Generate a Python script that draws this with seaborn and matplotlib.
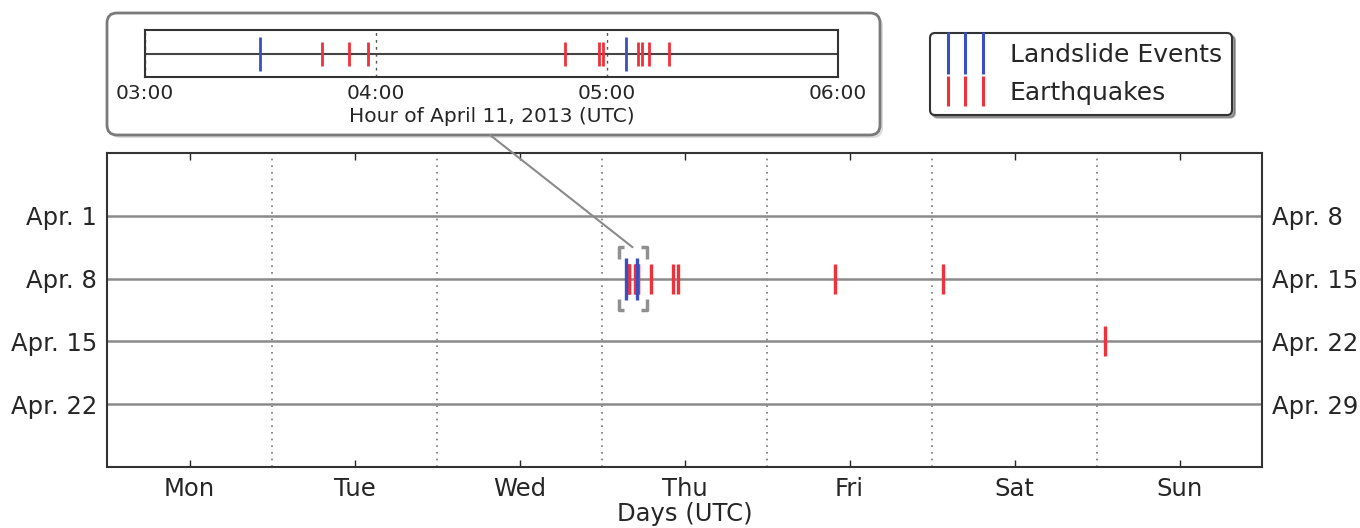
import numpy as np
import pandas as pd
import matplotlib
matplotlib.use("Agg")
import matplotlib.pyplot as plt
import seaborn as sns
from matplotlib.patches import FancyBboxPatch, ConnectionPatch
from matplotlib.lines import Line2D

# ---------------- data ----------------
landslide_times = ["2013-04-11 03:30", "2013-04-11 05:05"]
earthquake_times = [
    "2013-04-11 03:46", "2013-04-11 03:53", "2013-04-11 03:58",
    "2013-04-11 04:49", "2013-04-11 04:58", "2013-04-11 04:59",
    "2013-04-11 05:08", "2013-04-11 05:09", "2013-04-11 05:11", "2013-04-11 05:16",
    "2013-04-11 07:08", "2013-04-11 10:20", "2013-04-11 11:03",
    "2013-04-12 09:53", "2013-04-13 01:36", "2013-04-21 01:10",
]
day_labels = ["Mon", "Tue", "Wed", "Thu", "Fri", "Sat", "Sun"]
week_start_labels = ["Apr. 1", "Apr. 8", "Apr. 15", "Apr. 22"]
week_end_labels = ["Apr. 8", "Apr. 15", "Apr. 22", "Apr. 29"]
inset_hours = [3, 4, 5, 6]
inset_hour_labels = ["03:00", "04:00", "05:00", "06:00"]
series_labels = ["Landslide Events", "Earthquakes"]
start_date = "2013-04-01"
inset_date = "2013-04-11"

# ---------------- style ----------------
sns.set_style("white")
plt.rcParams["font.family"] = ["DejaVu Sans"]
TXT = "#262626"
BLUE = "#3a4fc4"
RED = "#f0303a"
FS = 17.5
FS_IN = 14.5

df = pd.DataFrame({
    "time": pd.to_datetime(landslide_times + earthquake_times),
    "kind": [series_labels[0]] * len(landslide_times) + [series_labels[1]] * len(earthquake_times),
})
ref = pd.Timestamp(start_date)
ndays = (df["time"] - ref) / pd.Timedelta(days=1)
df["week"] = np.floor(ndays / 7)
df["x"] = ndays - 7 * df["week"]
df["hour"] = df["time"].dt.hour + df["time"].dt.minute / 60
ins = df[(df["time"].dt.normalize() == pd.Timestamp(inset_date))
         & (df["hour"] >= inset_hours[0]) & (df["hour"] <= inset_hours[-1])]

W, H = 1360, 528
fig = plt.figure(figsize=(W / 100, H / 100), dpi=100)

# ---------------- main axes ----------------
ax = fig.add_axes([107 / W, (H - 467) / H, 1155 / W, 314 / H])
rows = np.arange(len(week_start_labels))
ax.set_xlim(0, 7)
ax.set_ylim(len(rows), -1)

for kind, color, s in [(series_labels[1], RED, 440), (series_labels[0], BLUE, 900)]:
    sns.scatterplot(data=df[df["kind"] == kind], x="x", y="week", marker="|", s=s,
                    color=color, linewidth=2.4, ax=ax, legend=False, zorder=4)

ax.set_xticks(np.arange(7) + 0.5, labels=day_labels)
ax.set_xticks(np.arange(1, 7), minor=True)
ax.set_yticks(rows, labels=week_start_labels)
ax.grid(False)
ax.grid(which="minor", axis="x", color="#777777", linestyle=(0, (1, 3)), linewidth=1.2)
ax.grid(which="major", axis="y", color="#8a8a8a", linestyle="-", linewidth=1.8)
ax.tick_params(axis="x", which="major", direction="in", length=5, width=1, top=True,
               bottom=True, labelsize=FS, pad=7, colors=TXT)
ax.tick_params(axis="x", which="minor", length=0)
ax.tick_params(axis="y", length=0, labelsize=FS, pad=7, colors=TXT)
ax.set_xlabel("Days (UTC)", fontsize=FS, color=TXT, labelpad=1)
ax.set_ylabel("")
for sp in ax.spines.values():
    sp.set_color("#333333")
    sp.set_linewidth(1.5)

ax2 = ax.twinx()
ax2.set_ylim(ax.get_ylim())
ax2.set_yticks(rows, labels=week_end_labels)
ax2.tick_params(axis="y", length=0, labelsize=FS, pad=7, colors=TXT)
ax2.grid(False)
for sp in ax2.spines.values():
    sp.set_visible(False)

# bracket around the zoomed region
wk = float(ins["week"].iloc[0])
day0 = float(np.floor(ins["x"].iloc[0]))
bx0 = day0 + inset_hours[0] / 24 - 0.025
bx1 = day0 + inset_hours[-1] / 24 + 0.02
arm = 0.035
for sgn in (-1, 1):
    ax.plot([bx0 + arm, bx0, bx0], [wk + sgn * 0.5, wk + sgn * 0.5, wk + sgn * 0.32],
            color="#909090", lw=2.5, solid_capstyle="butt", zorder=3)
    ax.plot([bx1 - arm, bx1, bx1], [wk + sgn * 0.5, wk + sgn * 0.5, wk + sgn * 0.32],
            color="#909090", lw=2.5, solid_capstyle="butt", zorder=3)

# ---------------- inset ----------------
shadow = FancyBboxPatch((1.10, 3.90), 7.73, 1.22, boxstyle="round,pad=0,rounding_size=0.1",
                        transform=fig.dpi_scale_trans, facecolor="#bbbbbb", edgecolor="none",
                        alpha=0.5, zorder=0)
box = FancyBboxPatch((1.07, 3.93), 7.73, 1.22, boxstyle="round,pad=0,rounding_size=0.1",
                     transform=fig.dpi_scale_trans, facecolor="white", edgecolor="#7a7a7a",
                     linewidth=2, zorder=1)
fig.patches.extend([shadow, box])

axi = fig.add_axes([145 / W, (H - 77) / H, 693 / W, 47 / H])
axi.set_zorder(5)
axi.set_xlim(inset_hours[0], inset_hours[-1])
axi.set_ylim(-1, 1)
for kind, color, s in [(series_labels[1], RED, 275), (series_labels[0], BLUE, 600)]:
    sub = ins[ins["kind"] == kind].assign(level=0.0)
    sns.scatterplot(data=sub, x="hour", y="level", marker="|", s=s, color=color,
                    linewidth=2.0, ax=axi, legend=False, zorder=4)
axi.axhline(0, color="#444444", lw=1.5, zorder=2)
axi.set_xticks(inset_hours, labels=inset_hour_labels)
axi.set_yticks([])
axi.grid(False)
axi.grid(axis="x", color="#555555", linestyle=(0, (2, 3)), linewidth=1.0)
axi.tick_params(axis="x", length=0, labelsize=FS_IN, pad=5, colors=TXT)
axi.set_xlabel("Hour of April 11, 2013 (UTC)", fontsize=FS_IN, color=TXT, labelpad=3)
axi.set_ylabel("")
for sp in axi.spines.values():
    sp.set_color("#333333")
    sp.set_linewidth(1.5)

con = ConnectionPatch(xyA=(4.90, 3.93), coordsA=fig.dpi_scale_trans,
                      xyB=((bx0 + bx1) / 2, wk - 0.5), coordsB=ax.transData,
                      color="#8a8a8a", lw=1.5, zorder=2)
fig.add_artist(con)

# ---------------- legend ----------------
handles = [
    Line2D([], [], linestyle="none", marker="|", markersize=30, markeredgewidth=2.2, color=BLUE),
    Line2D([], [], linestyle="none", marker="|", markersize=22, markeredgewidth=2.2, color=RED),
]
leg = fig.legend(handles, series_labels, loc="upper left",
                 bbox_to_anchor=(930 / W, 1 - 33 / H), borderaxespad=0, numpoints=3,
                 fontsize=18, frameon=True, fancybox=True, shadow=True,
                 handlelength=2.0, handletextpad=0.8, labelspacing=0.55, borderpad=0.4)
leg.get_frame().set_edgecolor("#333333")
leg.get_frame().set_linewidth(1.5)
for t in leg.get_texts():
    t.set_color(TXT)

fig.savefig("out.png", dpi=100)
